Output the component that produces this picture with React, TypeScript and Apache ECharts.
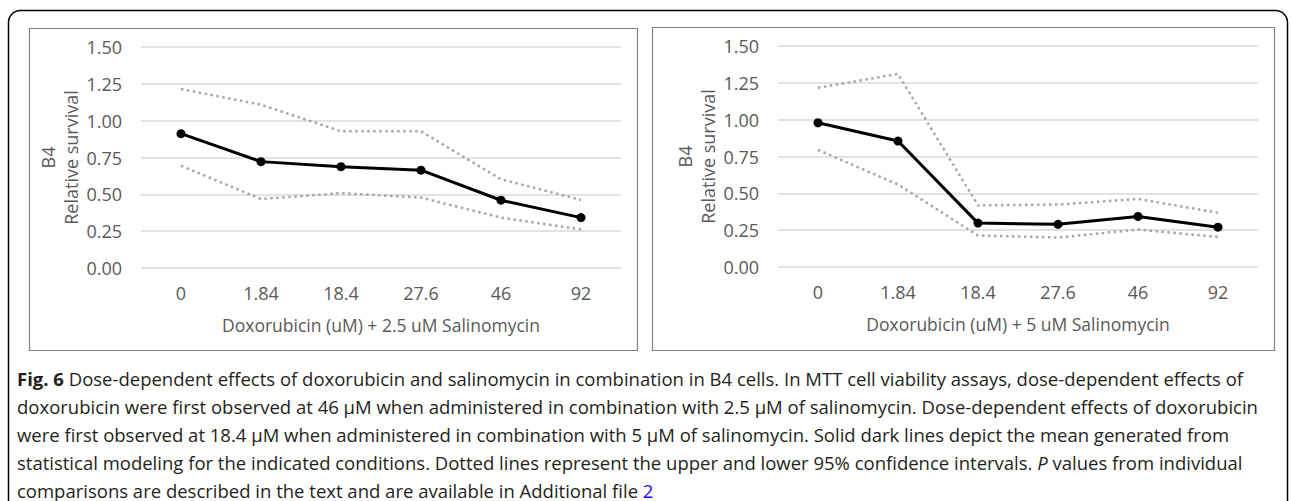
import React, { useEffect, useRef } from "react";
import * as echarts from "echarts";

const categories = ["0", "1.84", "18.4", "27.6", "46", "92"];
const yTicks = [0, 0.25, 0.5, 0.75, 1.0, 1.25, 1.5];

const meanA = [0.912, 0.722, 0.688, 0.664, 0.46, 0.342];
const upperA = [1.215, 1.108, 0.928, 0.928, 0.602, 0.462];
const lowerA = [0.694, 0.468, 0.508, 0.478, 0.342, 0.262];

const meanB = [0.979, 0.855, 0.298, 0.29, 0.343, 0.27];
const upperB = [1.217, 1.31, 0.418, 0.424, 0.462, 0.368];
const lowerB = [0.795, 0.56, 0.214, 0.2, 0.254, 0.204];

const xTitleA = "Doxorubicin (uM) + 2.5 uM Salinomycin";
const xTitleB = "Doxorubicin (uM) + 5 uM Salinomycin";
const yTitle = "B4\nRelative survival";

const captionLines = [
  "{b|Fig. 6} Dose-dependent effects of doxorubicin and salinomycin in combination in B4 cells. In MTT cell viability assays, dose-dependent effects of",
  "doxorubicin were first observed at 46 μM when administered in combination with 2.5 μM of salinomycin. Dose-dependent effects of doxorubicin",
  "were first observed at 18.4 μM when administered in combination with 5 μM of salinomycin. Solid dark lines depict the mean generated from",
  "statistical modeling for the indicated conditions. Dotted lines represent the upper and lower 95% confidence intervals. {i|P} values from individual",
  "comparisons are described in the text and are available in Additional file {l|2}",
];

const FONT = "Open Sans";
const GRAY = "#595959";
const CAP = 18.5;
const CAP_LH = 19;

function makeAxes(gridIndex: number, xTitle: string) {
  const xAxis = {
    type: "category",
    gridIndex,
    data: categories,
    boundaryGap: true,
    axisLine: { show: false },
    axisTick: { show: false },
    axisLabel: { color: GRAY, fontFamily: FONT, fontSize: 18, margin: 16 },
    name: xTitle,
    nameLocation: "middle",
    nameGap: 48,
    nameTextStyle: { color: GRAY, fontFamily: FONT, fontSize: 17.5 },
  };
  const yAxis = {
    type: "value",
    gridIndex,
    min: yTicks[0],
    max: yTicks[yTicks.length - 1],
    interval: 0.25,
    axisLine: { show: false },
    axisTick: { show: false },
    splitLine: { show: true, lineStyle: { color: "#d9d9d9", width: 1.5 } },
    axisLabel: {
      color: GRAY,
      fontFamily: FONT,
      fontSize: 18,
      margin: 19,
      formatter: (v: number) => v.toFixed(2),
    },
    name: yTitle,
    nameLocation: "middle",
    nameRotate: 90,
    nameGap: 58,
    nameTextStyle: { color: GRAY, fontFamily: FONT, fontSize: 18, lineHeight: 23 },
  };
  return { xAxis, yAxis };
}

function series(idx: number, mean: number[], upper: number[], lower: number[]) {
  const dotted = (name: string, data: number[]) => ({
    type: "line",
    name,
    xAxisIndex: idx,
    yAxisIndex: idx,
    data,
    symbol: "none",
    lineStyle: { color: "#a6a6a6", width: 2.5, type: [2.5, 3.5] },
    z: 2,
  });
  return [
    dotted("Upper 95% CI", upper),
    dotted("Lower 95% CI", lower),
    {
      type: "line",
      name: "Mean",
      xAxisIndex: idx,
      yAxisIndex: idx,
      data: mean,
      symbol: "circle",
      symbolSize: 9,
      itemStyle: { color: "#000" },
      lineStyle: { color: "#000", width: 3 },
      z: 3,
    },
  ];
}

export default function App() {
  const ref = useRef<HTMLDivElement>(null);
  useEffect(() => {
    if (!ref.current) return;
    const chart = echarts.init(ref.current, undefined, { renderer: "svg" });
    const a = makeAxes(0, xTitleA);
    const b = makeAxes(1, xTitleB);
    chart.setOption({
      animation: false,
      backgroundColor: "#fff",
      grid: [
        { left: 141, top: 47, width: 480, height: 221 },
        { left: 778, top: 46, width: 480, height: 221 },
      ],
      xAxis: [a.xAxis, b.xAxis],
      yAxis: [a.yAxis, b.yAxis],
      series: [...series(0, meanA, upperA, lowerA), ...series(1, meanB, upperB, lowerB)],
      graphic: [
        {
          type: "rect",
          shape: { x: 8.5, y: 10.5, width: 1279, height: 520, r: 12 },
          style: { fill: "none", stroke: "#000", lineWidth: 1.5 },
          silent: true,
          z: -10,
        },
        {
          type: "rect",
          shape: { x: 29.5, y: 28.5, width: 608, height: 322 },
          style: { fill: "none", stroke: "#808080", lineWidth: 1.2 },
          silent: true,
          z: -10,
        },
        {
          type: "rect",
          shape: { x: 652.5, y: 27.5, width: 622, height: 323 },
          style: { fill: "none", stroke: "#808080", lineWidth: 1.2 },
          silent: true,
          z: -10,
        },
        ...captionLines.map((t, i) => ({
          type: "text",
          x: 17,
          y: 378 + i * 28,
          style: {
            text: t,
            fill: "#231f20",
            fontFamily: FONT,
            fontSize: CAP,
            lineHeight: CAP_LH,
            verticalAlign: "middle",
            rich: {
              b: { fontWeight: "bold", fontFamily: FONT, fontSize: CAP, lineHeight: CAP_LH, fill: "#231f20" },
              i: { fontStyle: "italic", fontFamily: FONT, fontSize: CAP, lineHeight: CAP_LH, fill: "#231f20" },
              l: { fontFamily: FONT, fontSize: CAP, lineHeight: CAP_LH, fill: "#1a0dff" },
            },
          },
          silent: true,
        })),
      ],
    });
    return () => chart.dispose();
  }, []);
  return (
    <div
      ref={ref}
      style={{ position: "fixed", left: 0, top: 0, width: 1292, height: 501, background: "#fff" }}
    />
  );
}
